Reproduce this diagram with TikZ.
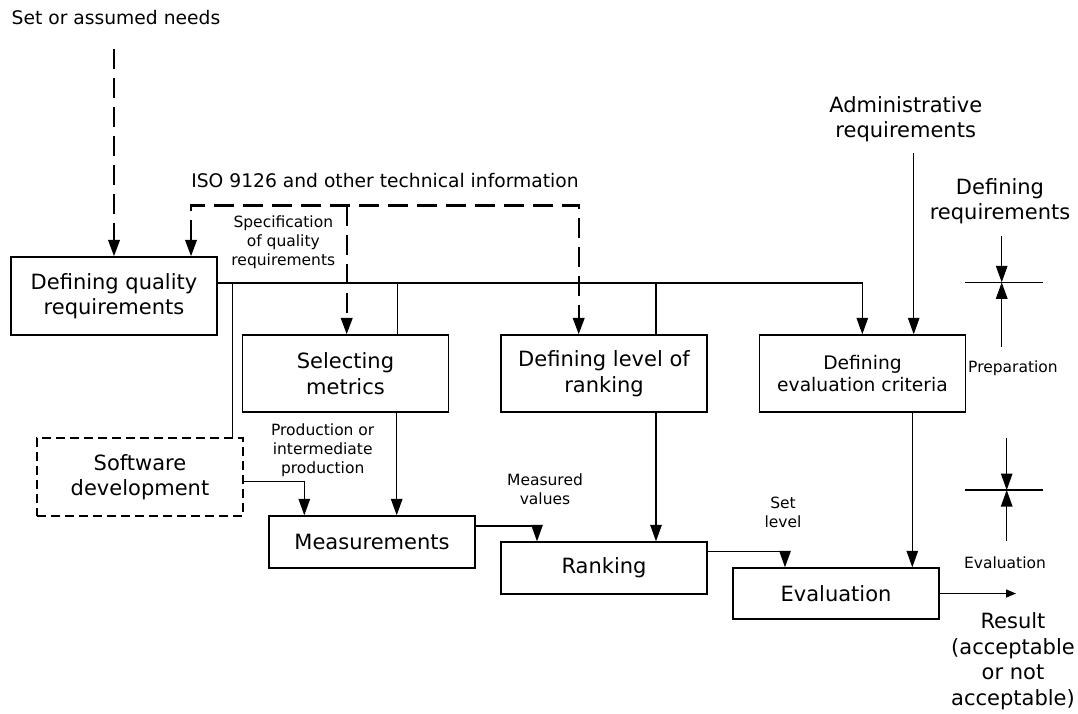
\documentclass[tikz,border=0pt]{standalone}
\usepackage{fontspec}
\setmainfont{DejaVu Sans}
\usetikzlibrary{arrows.meta}

\newcommand\bigtxt{\fontsize{21}{25.5}\selectfont}
\newcommand\midtxt{\fontsize{18.7}{22.3}\selectfont}
\newcommand\smalltxt{\fontsize{15.5}{19}\selectfont}

\begin{document}
\begin{tikzpicture}[x=1pt,y=-1pt,
  tip/.tip={Triangle[length=16.5pt,width=11.5pt]},
  smalltip/.tip={Triangle[length=10pt,width=8pt]},
  box/.style={draw, line width=1.4pt, minimum width=206pt, align=center,
              inner sep=0pt, font=\bigtxt},
  dashbox/.style={dash pattern=on 9pt off 5pt, line width=2pt},
  ln/.style={draw, line width=1.3pt},
  dsh/.style={draw, line width=2.4pt, dash pattern=on 20pt off 9pt},
  lbl/.style={align=center, inner sep=0pt}]

\useasboundingbox (0,0) rectangle (1078,713);

% process boxes
\node[box, minimum height=78pt] (dqr) at (114,296) {Defining quality\\requirements};
\node[box, minimum height=77pt] (sel) at (345.5,373.5) {Selecting\\metrics};
\node[box, minimum height=77pt] (dlr) at (604,373.5) {Defining level of\\ranking};
\node[box, minimum height=77pt, font=\midtxt] (dec) at (862.5,373.5) {Defining\\evaluation criteria};
\node[box, dashbox, minimum height=78pt] (sw) at (140,477) {Software\\development};
\node[box, minimum height=52pt] (meas) at (372,542) {Measurements};
\node[box, minimum height=52pt] (rank) at (604,568) {Ranking};
\node[box, minimum height=51pt] (eval) at (836,593.5) {Evaluation};

% free labels
\node[lbl, font=\midtxt] (needs) at (116,18) {Set or assumed needs};
\node[lbl, font=\midtxt] (iso) at (385,181) {ISO 9126 and other technical information};
\node[lbl, font=\smalltxt] (spec) at (283.3,242) {Specification\\of quality\\requirements};
\node[lbl, font=\bigtxt] (adm) at (905.7,119) {Administrative\\requirements};
\node[lbl, font=\bigtxt] (defreq) at (1000,201) {Defining\\requirements};
\node[lbl, font=\smalltxt] (prep) at (1013,368) {Preparation};
\node[lbl, font=\smalltxt] (evlbl) at (1005,563) {Evaluation};
\node[lbl, font=\bigtxt] (res) at (1013,661) {Result\\(acceptable\\or not\\acceptable)};
\node[lbl, font=\smalltxt] (setlvl) at (783,512) {Set\\level};
\node[lbl, font=\smalltxt] (measv) at (545,489) {Measured\\values};
\node[lbl, font=\smalltxt] (prod) at (322.7,450) {Production or\\intermediate\\production};

% loose ends of connectors
\coordinate (needsEnd) at (114,49);
\coordinate (isoL) at (191,205.5);
\coordinate (isoM) at (346.7,205.5);
\coordinate (isoR) at (578.7,205.5);
\coordinate (bus) at (862.3,283);
\coordinate (b1) at (232.7,283);
\coordinate (b2) at (397.7,283);
\coordinate (b3) at (656,283);
\coordinate (admEnd) at (913.7,153);
\coordinate (resEnd) at (1016,593.5);

% dashed inputs
\draw[dsh, -tip] (needsEnd) -- (dqr.north);
\draw[dsh, tip-tip] (dqr.north -| isoL) -- (isoL) -- (isoR) -- (dlr.north -| isoR);
\draw[dsh, -tip] (isoM) -- (sel.north -| isoM);

% distribution line from the quality requirements
\draw[ln, -tip] (dqr.east |- bus) -- (bus) -- (dec.north -| bus);
\draw[ln] (b1) -- (sw.north -| b1);
\draw[ln] (b2) -- (sel.north -| b2);
\draw[ln] (b3) -- (dlr.north -| b3);

\draw[ln, -tip] (admEnd) -- (dec.north -| admEnd);

% process flow
\draw[ln, -tip] ([xshift=51.2pt]sel.south) -- ([xshift=51.2pt]sel.south |- meas.north);
\draw[ln, -tip] ([yshift=-4.3pt]sw.east) -| ([xshift=-67.7pt]meas.north);
\draw[ln, -tip] ([yshift=16pt]meas.east) -| ([xshift=-67pt]rank.north);
\draw[ln, -tip] ([xshift=52pt]dlr.south) -- ([xshift=52pt]rank.north);
\draw[ln, -tip] ([yshift=16.3pt]rank.east) -| ([xshift=-51pt]eval.north);
\draw[ln, -tip] ([xshift=49.8pt]dec.south) -- ([xshift=49.8pt]dec.south |- eval.north);
\draw[ln, -smalltip] (eval.east) -- (resEnd);

% phase markers
\coordinate (pm) at (1001.7,282.3);
\coordinate (pmL) at (965,282.3);
\coordinate (pmR) at (1043,282.3);
\coordinate (pmTop) at (1001.7,236);
\coordinate (pmBot) at (1001.7,346.7);
\draw[ln] (pmL) -- (pmR);
\draw[ln, -tip] (pmTop) -- (pm);
\draw[ln, -tip] (pmBot) -- (pm);

\coordinate (em) at (1006.7,490);
\coordinate (emL) at (965,490);
\coordinate (emR) at (1043,490);
\coordinate (emTop) at (1006.7,438.3);
\coordinate (emBot) at (1006.7,540.7);
\draw[ln] (emL) -- (emR);
\draw[ln, -tip] (emTop) -- (em);
\draw[ln, -tip] (emBot) -- (em);

\end{tikzpicture}
\end{document}
